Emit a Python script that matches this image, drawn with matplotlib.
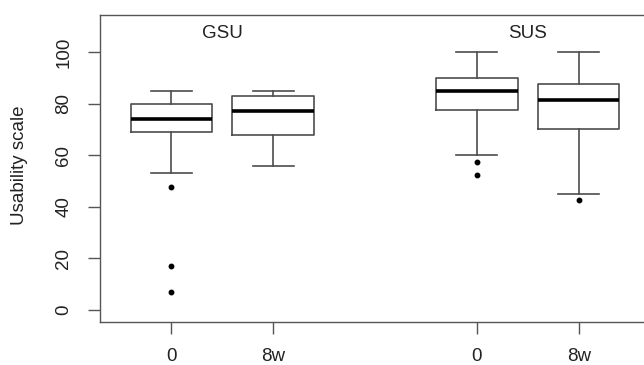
import matplotlib
matplotlib.use('Agg')
import matplotlib.pyplot as plt

# ---- data ----
groups = ["GSU", "SUS"]
group_centers = [1.5, 4.5]
tick_labels = ["0", "8w", "0", "8w"]
positions = [1, 2, 4, 5]
whisker_low = [53, 56, 60, 45]
q1 = [69, 68, 77.5, 70]
medians = [74, 77, 85, 81.25]
q3 = [80, 83, 90, 87.5]
whisker_high = [85, 85, 100, 100]
outliers = [[47.5, 17, 7], [], [57.5, 52.5], [42.5]]
y_ticks = [0, 20, 40, 60, 80, 100]

plt.rcParams['font.family'] = ['Liberation Sans', 'DejaVu Sans']
plt.rcParams['font.size'] = 13.5

W, H = 644, 365
fig = plt.figure(figsize=(W / 100, H / 100), dpi=100)
left, right, top, bottom = 100, 650, 14.7, 321.5
ax = fig.add_axes([left / W, 1 - bottom / H, (right - left) / W, (bottom - top) / H])

stats = []
for i in range(len(positions)):
    stats.append(dict(whislo=whisker_low[i], q1=q1[i], med=medians[i],
                      q3=q3[i], whishi=whisker_high[i], fliers=outliers[i]))

line_col = '#4d4d4d'
ax.bxp(stats, positions=positions, widths=0.8, capwidths=0.4,
       boxprops=dict(color=line_col, linewidth=1.2),
       whiskerprops=dict(color=line_col, linewidth=1.2, linestyle='-'),
       capprops=dict(color=line_col, linewidth=1.2),
       medianprops=dict(color='black', linewidth=2.6, solid_capstyle='butt'),
       flierprops=dict(marker='o', markerfacecolor='black', markeredgecolor='black',
                       markersize=3.2, linestyle='none'))

ax.set_xlim(0.3, 5.7)
ax.set_ylim(-4.4, 114.4)
ax.set_xticks(positions)
ax.set_xticklabels(tick_labels)
ax.set_yticks(y_ticks)
ax.set_yticklabels([str(v) for v in y_ticks], rotation=90, va='center')

for sp in ax.spines.values():
    sp.set_color('#555555')
    sp.set_linewidth(1.0)
ax.tick_params(axis='both', length=8.4, width=1.0, color='#555555', labelcolor='#222222')
ax.tick_params(axis='x', pad=11)
ax.tick_params(axis='y', pad=11.5)

for name, xc in zip(groups, group_centers):
    ax.text(xc, 107, name, ha='center', va='center', color='#222222')

fig.text(20 / W, 1 - 165 / H, "Usability scale", rotation=90,
         ha='center', va='center', color='#222222')

fig.savefig('out.png', dpi=100)
